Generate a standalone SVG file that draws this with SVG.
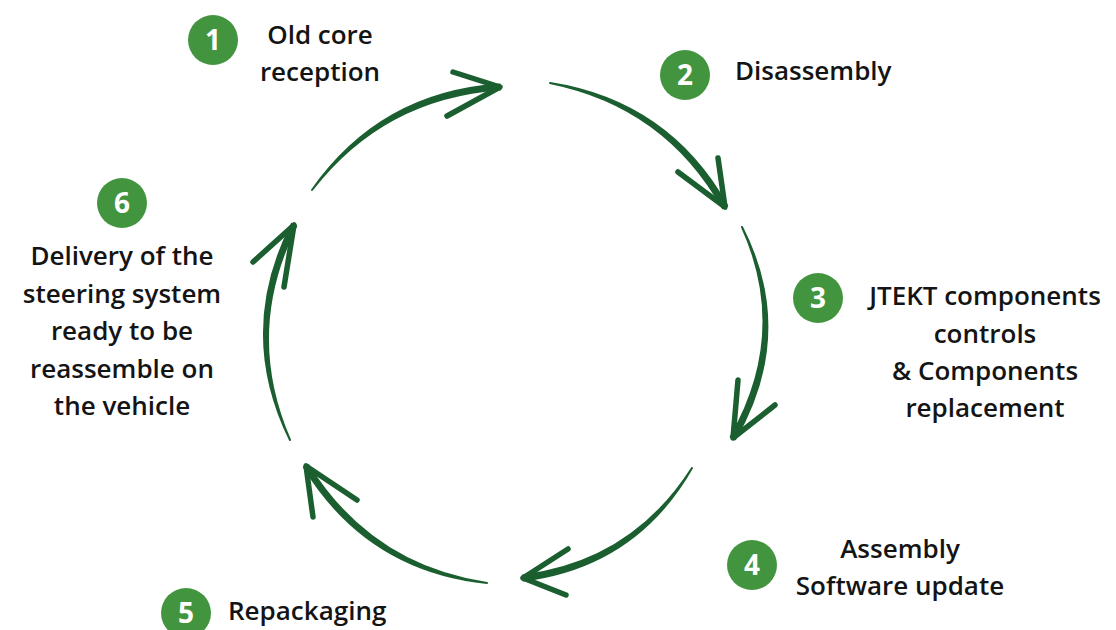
<svg xmlns="http://www.w3.org/2000/svg" width="1116" height="630" viewBox="0 0 1116 630">
<style>
.badge{fill:#43943e}
.num{font-family:"Open Sans",Lato,sans-serif;font-weight:700;font-size:28px;fill:#fff;text-anchor:middle}
.lbl{font-family:"Open Sans",Lato,sans-serif;font-weight:600;font-size:26px;fill:#141414}
.mid{text-anchor:middle}
.shaft{fill:#1b5f30;stroke:#1b5f30;stroke-width:2;stroke-linejoin:round}
.head{fill:none;stroke:#1b5f30;stroke-width:5.5;stroke-linecap:round;stroke-linejoin:round}
</style>
<rect width="1116" height="630" fill="#fff"/>
<g id="connectors">
<path class="shaft" d="M312,190 Q383.4,97.6 500.2,89.5 L499.8,84.5 Q380.6,92.4 312,190Z"/>
<path class="head" d="M453,72 L500,87 L447,116"/>
<path class="shaft" d="M550,83 Q665.3,106.4 722.8,208.2 L727.2,205.8 Q668.7,101.6 550,83Z"/>
<path class="head" d="M678,172 L725,207 L718,158"/>
<path class="shaft" d="M742,227 Q790,332.9 730.8,436.8 L735.2,439.2 Q796,333.1 742,227Z"/>
<path class="head" d="M738,380 L733,438 L775,405"/>
<path class="shaft" d="M692,468 Q632.4,561.5 522.7,575.5 L523.3,580.5 Q635.6,566.5 692,468Z"/>
<path class="head" d="M568,549 L523,578 L566,595"/>
<path class="shaft" d="M487,583 Q370.6,565.5 308.1,464.7 L303.9,467.3 Q367.4,570.5 487,583Z"/>
<path class="head" d="M357,500 L306,466 L313,517"/>
<path class="shaft" d="M290,440 Q243,332.1 296.2,226.1 L291.8,223.9 Q237,331.9 290,440Z"/>
<path class="head" d="M253,262 L294,225 L284,287"/>
</g>
<g id="step1">
<circle class="badge" cx="213" cy="40" r="25"/>
<text class="num" x="213" y="50">1</text>
<text class="lbl mid" x="320" y="44">Old core</text>
<text class="lbl mid" x="320" y="81">reception</text>
</g>
<g id="step2">
<circle class="badge" cx="685" cy="75" r="25"/>
<text class="num" x="685" y="85">2</text>
<text class="lbl" x="735" y="80">Disassembly</text>
</g>
<g id="step3">
<circle class="badge" cx="818" cy="298" r="25"/>
<text class="num" x="818" y="308">3</text>
<text class="lbl mid" x="985" y="305">JTEKT components</text>
<text class="lbl mid" x="985" y="343">controls</text>
<text class="lbl mid" x="985" y="380">&amp; Components</text>
<text class="lbl mid" x="985" y="417">replacement</text>
</g>
<g id="step4">
<circle class="badge" cx="752" cy="565" r="25"/>
<text class="num" x="752" y="575">4</text>
<text class="lbl mid" x="900" y="558">Assembly</text>
<text class="lbl mid" x="900" y="595">Software update</text>
</g>
<g id="step5">
<circle class="badge" cx="186" cy="613" r="25"/>
<text class="num" x="186" y="623">5</text>
<text class="lbl" x="228" y="620">Repackaging</text>
</g>
<g id="step6">
<circle class="badge" cx="122" cy="203" r="25"/>
<text class="num" x="122" y="213">6</text>
<text class="lbl mid" x="122" y="265">Delivery of the</text>
<text class="lbl mid" x="122" y="303">steering system</text>
<text class="lbl mid" x="122" y="340">ready to be</text>
<text class="lbl mid" x="122" y="378">reassemble on</text>
<text class="lbl mid" x="122" y="415">the vehicle</text>
</g>
</svg>
